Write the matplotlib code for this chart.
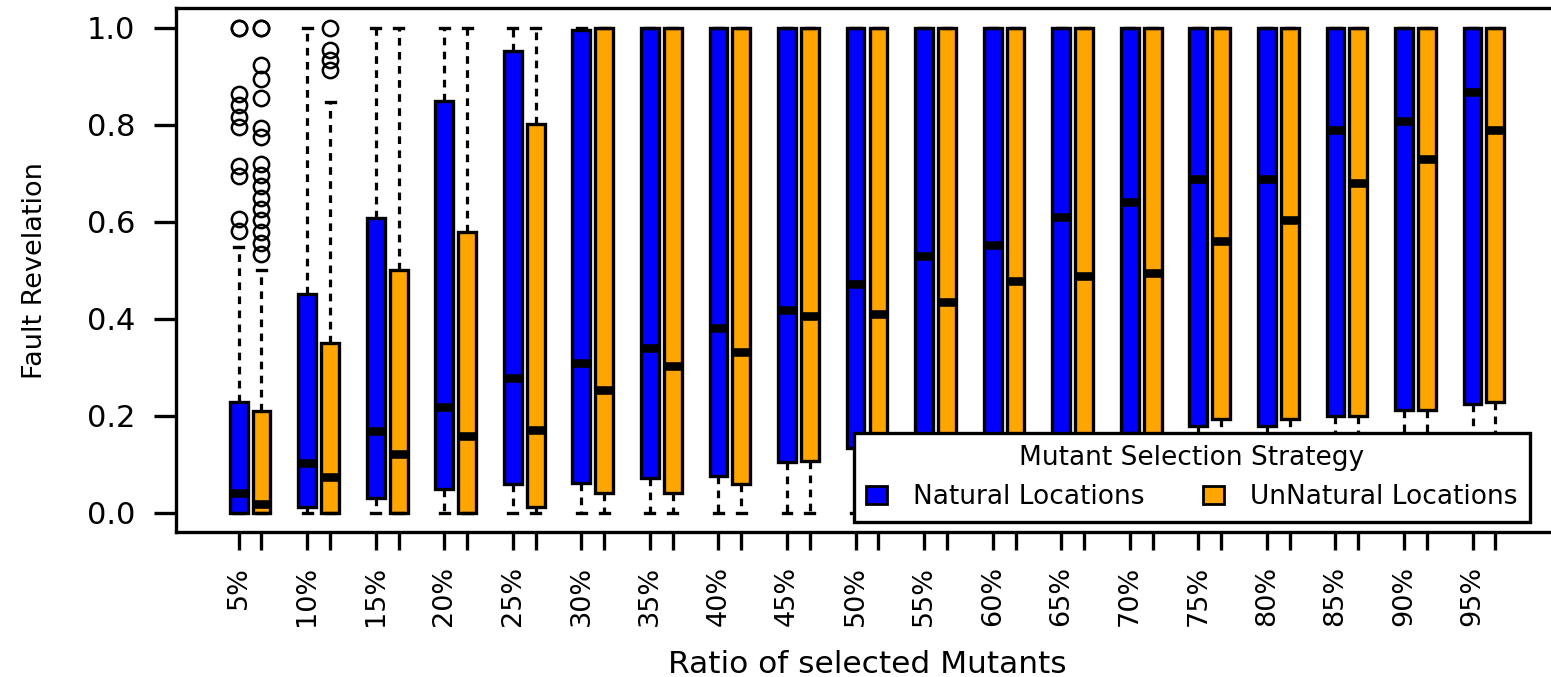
import matplotlib
matplotlib.use('Agg')
import matplotlib.pyplot as plt
from matplotlib.patches import Patch

# ratio of selected mutants (one group per ratio)
ratios = ['5%', '10%', '15%', '20%', '25%', '30%', '35%', '40%', '45%', '50%',
	'55%', '60%', '65%', '70%', '75%', '80%', '85%', '90%', '95%']

# fault revelation summaries, natural locations
nat_whislo = [0.0] * 19
nat_q1 = [0.0, 0.012, 0.031, 0.049, 0.060, 0.061, 0.072, 0.077, 0.104, 0.134,
	0.150, 0.155, 0.160, 0.165, 0.180, 0.180, 0.200, 0.212, 0.224]
nat_med = [0.042, 0.103, 0.169, 0.218, 0.278, 0.308, 0.339, 0.381, 0.418, 0.471,
	0.530, 0.552, 0.609, 0.640, 0.688, 0.688, 0.790, 0.808, 0.868]
nat_q3 = [0.229, 0.452, 0.608, 0.850, 0.952, 0.996, 1.0, 1.0, 1.0, 1.0,
	1.0, 1.0, 1.0, 1.0, 1.0, 1.0, 1.0, 1.0, 1.0]
nat_whishi = [0.549, 1.0, 1.0, 1.0, 1.0, 1.0, 1.0, 1.0, 1.0, 1.0,
	1.0, 1.0, 1.0, 1.0, 1.0, 1.0, 1.0, 1.0, 1.0]
nat_out = [[1.0, 1.0, 0.864, 0.840, 0.816, 0.795, 0.716, 0.695, 0.606, 0.582]] + [[]] * 18

# fault revelation summaries, unnatural locations
unnat_whislo = [0.0] * 19
unnat_q1 = [0.0, 0.0, 0.0, 0.0, 0.013, 0.041, 0.041, 0.059, 0.108, 0.140,
	0.145, 0.150, 0.155, 0.160, 0.194, 0.194, 0.200, 0.212, 0.229]
unnat_med = [0.019, 0.073, 0.121, 0.158, 0.170, 0.254, 0.302, 0.332, 0.406, 0.411,
	0.435, 0.477, 0.489, 0.495, 0.561, 0.603, 0.681, 0.729, 0.790]
unnat_q3 = [0.211, 0.350, 0.500, 0.578, 0.802, 1.0, 1.0, 1.0, 1.0, 1.0,
	1.0, 1.0, 1.0, 1.0, 1.0, 1.0, 1.0, 1.0, 1.0]
unnat_whishi = [0.500, 0.846, 1.0, 1.0, 1.0, 1.0, 1.0, 1.0, 1.0, 1.0,
	1.0, 1.0, 1.0, 1.0, 1.0, 1.0, 1.0, 1.0, 1.0]
unnat_out = [[1.0, 1.0, 0.923, 0.895, 0.855, 0.793, 0.775, 0.720, 0.697, 0.674,
	0.650, 0.627, 0.604, 0.580, 0.557, 0.533],
	[1.0, 0.954, 0.933, 0.913]] + [[]] * 17

series_names = ['Natural Locations', 'UnNatural Locations']
series_colors = ['#0000FF', '#FFA500']


def make_stats(whislo, q1, med, q3, whishi, out):

	return [dict(whislo=a, q1=b, med=c, q3=d, whishi=e, fliers=f)
		for a, b, c, d, e, f in zip(whislo, q1, med, q3, whishi, out)]


def draw_boxes(ax, stats, positions, color):

	ax.bxp(stats, positions=positions, widths=0.78, patch_artist=True,
		boxprops=dict(facecolor=color, edgecolor='black', linewidth=2.4),
		medianprops=dict(color='black', linewidth=6.2, solid_capstyle='butt'),
		whiskerprops=dict(color='black', linewidth=2.3, linestyle=(0, (2.4, 2.0))),
		capprops=dict(color='black', linewidth=2.4),
		flierprops=dict(marker='o', markerfacecolor='none', markeredgecolor='black',
			markersize=11, markeredgewidth=1.8))


def main():

	fig = plt.figure(figsize=(15.51, 6.77), dpi=100)
	ax = fig.add_axes([0.1135, 0.2137, 0.8910, 0.7740])

	n = len(ratios)
	pos_nat = [3 * i + 1 for i in range(n)]
	pos_unnat = [3 * i + 2 for i in range(n)]

	draw_boxes(ax, make_stats(nat_whislo, nat_q1, nat_med, nat_q3, nat_whishi, nat_out),
		pos_nat, series_colors[0])
	draw_boxes(ax, make_stats(unnat_whislo, unnat_q1, unnat_med, unnat_q3, unnat_whishi, unnat_out),
		pos_unnat, series_colors[1])

	ax.set_xlim(-1.74, 58.74)
	ax.set_ylim(-0.04, 1.04)

	# one tick per box, label only under the first box of each group
	ticks = sorted(pos_nat + pos_unnat)
	ticklabels = [ratios[(t - 1) // 3] if t % 3 == 1 else '' for t in ticks]
	ax.set_xticks(ticks)
	ax.set_xticklabels(ticklabels, rotation=90, fontsize=19.5)
	ax.tick_params(axis='x', length=13, width=2.4, pad=11)

	ax.set_yticks([0.0, 0.2, 0.4, 0.6, 0.8, 1.0])
	ax.set_yticklabels(['0.0', '0.2', '0.4', '0.6', '0.8', '1.0'], fontsize=22)
	ax.tick_params(axis='y', length=15.5, width=2.4, pad=14)

	for spine in ax.spines.values():
		spine.set_linewidth(2.4)

	ax.set_xlabel('Ratio of selected Mutants', fontsize=22.5)
	ax.xaxis.label.set_va('baseline')
	ax.xaxis.set_label_coords(0.5, -0.2685)
	ax.set_ylabel('Fault Revelation', fontsize=19.5)
	ax.yaxis.label.set_va('baseline')
	ax.yaxis.set_label_coords(-0.097, 0.5)

	handles = [Patch(facecolor=c, edgecolor='black', linewidth=2) for c in series_colors]
	leg = ax.legend(handles, series_names, ncol=2, title='Mutant Selection Strategy',
		fontsize=19, title_fontsize=19, loc='lower left', bbox_to_anchor=(0.4906, 0.0197),
		handlelength=0.8, handleheight=0.7, handletextpad=1.0, columnspacing=2.2,
		borderpad=0.45, borderaxespad=0, fancybox=False, framealpha=1)
	leg.get_frame().set_edgecolor('black')
	leg.get_frame().set_linewidth(2.4)
	leg.set_zorder(10)

	fig.savefig('out.png', dpi=100)


if __name__ == '__main__':
	main()
